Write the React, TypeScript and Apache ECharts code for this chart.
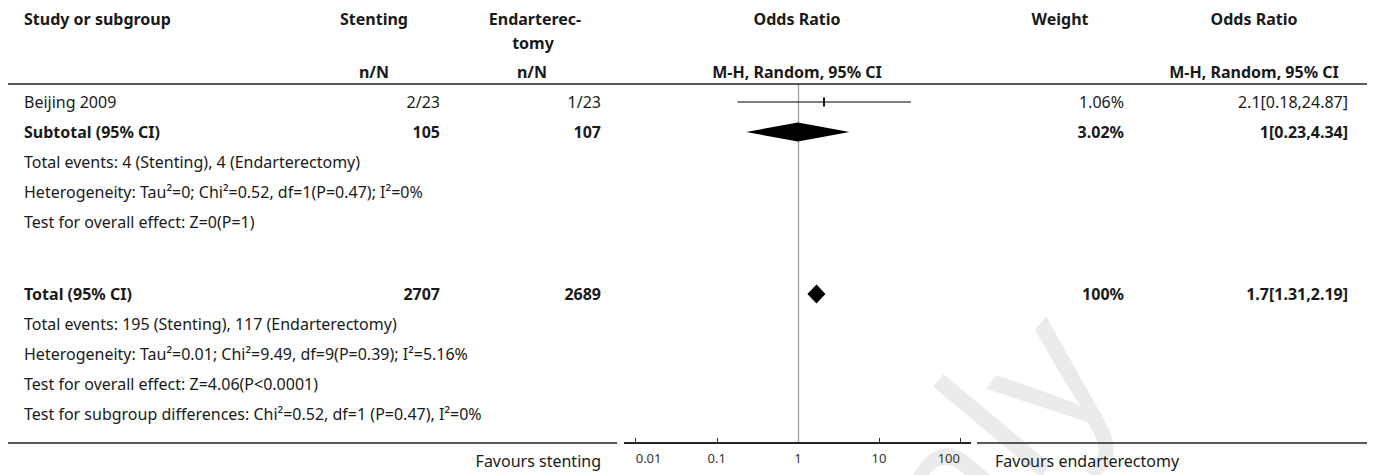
import React, { useEffect, useRef } from 'react';
import * as echarts from 'echarts';

// ---- study-level data ----
const studyNames = ['Beijing 2009'];
const stentEvents = [2];
const stentTotals = [23];
const endEvents = [1];
const endTotals = [23];
const studyWeights = [1.06];
const studyOR = [2.1];
const studyLow = [0.18];
const studyHigh = [24.87];

// ---- pooled estimates (subgroup, overall) ----
const pooledNames = ['Subtotal (95% CI)', 'Total (95% CI)'];
const pooledStentN = [105, 2707];
const pooledEndN = [107, 2689];
const pooledWeights = [3.02, 100];
const pooledOR = [1, 1.7];
const pooledLow = [0.23, 1.31];
const pooledHigh = [4.34, 2.19];

const subgroupNotes = [
  'Total events: 4 (Stenting), 4 (Endarterectomy)',
  'Heterogeneity: Tau\u00B2=0; Chi\u00B2=0.52, df=1(P=0.47); I\u00B2=0%',
  'Test for overall effect: Z=0(P=1)',
];
const overallNotes = [
  'Total events: 195 (Stenting), 117 (Endarterectomy)',
  'Heterogeneity: Tau\u00B2=0.01; Chi\u00B2=9.49, df=9(P=0.39); I\u00B2=5.16%',
  'Test for overall effect: Z=4.06(P<0.0001)',
  'Test for subgroup differences: Chi\u00B2=0.52, df=1 (P=0.47), I\u00B2=0%',
];

const axisMin = 0.01;
const axisMax = 100;
const favoursLeft = 'Favours stenting';
const favoursRight = 'Favours endarterectomy';

// ---- layout ----
const FONT = "'Noto Sans', sans-serif";
const FS = 16;
const TEXT_X = 24;
const FIRST_ROW_Y = 102;
const ROW_H = 30;
const GROUP_GAP = 2.4; // rows between the subgroup notes and the overall total
const TABLE_TOP = 84;
const TABLE_BOTTOM = 443;
const LINE_LEFT = 8;
const LINE_RIGHT = 1367;
const PLOT_LEFT = 635.7;
const PLOT_RIGHT = 960;
const AXIS_LINE_LEFT = 624;
const AXIS_LINE_RIGHT = 971;

const COL_STENT = 440;
const COL_END = 601;
const COL_WEIGHT = 1124;
const COL_OR = 1348;

// row positions, in row units on the plot's vertical scale
const studyRows = studyNames.map((_, i) => i);
const subtotalRow = studyNames.length;
const totalRow = subtotalRow + subgroupNotes.length + GROUP_GAP;

const rowY = (r: number) => FIRST_ROW_Y + r * ROW_H;

function txt(
  text: string,
  x: number,
  y: number,
  align: 'left' | 'center' | 'right',
  bold = false,
  extra: Record<string, unknown> = {}
) {
  return {
    type: 'text',
    x,
    y,
    z: 10,
    style: {
      text,
      fontFamily: FONT,
      fontSize: FS,
      fontWeight: bold ? 'bold' : 'normal',
      fill: '#1a1a1a',
      align,
      verticalAlign: 'middle',
      ...extra,
    },
  };
}

function hline(x1: number, x2: number, y: number, w = 1.5) {
  return {
    type: 'line',
    z: 10,
    shape: { x1, y1: y, x2, y2: y },
    style: { stroke: '#222', lineWidth: w },
  };
}

const fmtCI = (or: number, lo: number, hi: number) => `${or}[${lo},${hi}]`;

export default function App() {
  const ref = useRef<HTMLDivElement>(null);

  useEffect(() => {
    if (!ref.current) return;
    const chart = echarts.init(ref.current, null, { renderer: 'svg' });

    // marks: [low, high, estimate, row]
    const markData: { value: number[]; kind: string }[] = [];
    studyNames.forEach((_, i) => {
      markData.push({ value: [studyLow[i], studyHigh[i], studyOR[i], studyRows[i]], kind: 'study' });
    });
    markData.push({ value: [pooledLow[0], pooledHigh[0], pooledOR[0], subtotalRow], kind: 'pooled' });
    markData.push({ value: [pooledLow[1], pooledHigh[1], pooledOR[1], totalRow], kind: 'pooled' });

    const texts: any[] = [];
    // header
    const H1 = 19;
    const H2 = 43;
    const H3 = 72;
    texts.push(txt('Study or subgroup', TEXT_X, H1, 'left', true));
    texts.push(txt('Stenting', 374, H1, 'center', true));
    texts.push(txt('n/N', 374, H3, 'center', true));
    texts.push(txt('Endarterec-', 535, H1, 'center', true));
    texts.push(txt('tomy', 533, H2, 'center', true));
    texts.push(txt('n/N', 532, H3, 'center', true));
    texts.push(txt('Odds Ratio', 797, H1, 'center', true));
    texts.push(txt('M-H, Random, 95% CI', 797, H3, 'center', true));
    texts.push(txt('Weight', 1060, H1, 'center', true));
    texts.push(txt('Odds Ratio', 1254, H1, 'center', true));
    texts.push(txt('M-H, Random, 95% CI', 1254, H3, 'center', true));

    // study rows
    studyNames.forEach((name, i) => {
      const y = rowY(studyRows[i]);
      texts.push(txt(name, TEXT_X, y, 'left'));
      texts.push(txt(`${stentEvents[i]}/${stentTotals[i]}`, COL_STENT, y, 'right'));
      texts.push(txt(`${endEvents[i]}/${endTotals[i]}`, COL_END, y, 'right'));
      texts.push(txt(`${studyWeights[i]}%`, COL_WEIGHT, y, 'right'));
      texts.push(txt(fmtCI(studyOR[i], studyLow[i], studyHigh[i]), COL_OR, y, 'right'));
    });

    // pooled rows
    [subtotalRow, totalRow].forEach((r, k) => {
      const y = rowY(r);
      texts.push(txt(pooledNames[k], TEXT_X, y, 'left', true));
      texts.push(txt(String(pooledStentN[k]), COL_STENT, y, 'right', true));
      texts.push(txt(String(pooledEndN[k]), COL_END, y, 'right', true));
      texts.push(txt(`${pooledWeights[k]}%`, COL_WEIGHT, y, 'right', true));
      texts.push(txt(fmtCI(pooledOR[k], pooledLow[k], pooledHigh[k]), COL_OR, y, 'right', true));
    });

    subgroupNotes.forEach((t, i) => texts.push(txt(t, TEXT_X, rowY(subtotalRow + 1 + i), 'left')));
    overallNotes.forEach((t, i) => texts.push(txt(t, TEXT_X, rowY(totalRow + 1 + i), 'left')));

    // footer
    texts.push(txt(favoursLeft, 601, 461, 'right'));
    texts.push(txt(favoursRight, 995, 461, 'left'));

    const lines = [
      hline(LINE_LEFT, LINE_RIGHT, TABLE_TOP),
      hline(LINE_LEFT, 617, TABLE_BOTTOM),
      hline(AXIS_LINE_LEFT, AXIS_LINE_RIGHT, TABLE_BOTTOM, 2),
      hline(977, LINE_RIGHT, TABLE_BOTTOM),
    ];

    const watermark = {
      type: 'text',
      x: 1067,
      y: 334,
      z: 0,
      rotation: (50 * Math.PI) / 180,
      style: {
        text: 'Preview only',
        fontFamily: FONT,
        fontSize: 185,
        fill: '#ebebeb',
        align: 'right',
        verticalAlign: 'middle',
      },
    };

    const yMin = (TABLE_TOP - FIRST_ROW_Y) / ROW_H;
    const yMax = (TABLE_BOTTOM - FIRST_ROW_Y) / ROW_H;

    chart.setOption({
      animation: false,
      backgroundColor: '#fff',
      grid: {
        left: PLOT_LEFT,
        right: 1375 - PLOT_RIGHT,
        top: TABLE_TOP,
        bottom: 475 - TABLE_BOTTOM,
        containLabel: false,
      },
      xAxis: {
        type: 'log',
        logBase: 10,
        min: axisMin,
        max: axisMax,
        position: 'bottom',
        axisLine: { show: false, onZero: false },
        axisTick: { show: true, inside: true, length: 5, lineStyle: { color: '#333', width: 1 } },
        axisLabel: {
          show: true,
          margin: 8,
          color: '#333',
          fontFamily: FONT,
          fontSize: 13,
          alignMinLabel: 'left',
          alignMaxLabel: 'right',
          formatter: (v: number) => String(Number(v.toPrecision(2))),
        },
        splitLine: { show: false },
      },
      yAxis: {
        type: 'value',
        inverse: true,
        min: yMin,
        max: yMax,
        show: false,
        splitLine: { show: false },
      },
      graphic: { elements: [watermark, ...lines, ...texts] },
      series: [
        {
          type: 'custom',
          z: 5,
          data: markData,
          encode: { x: [0, 1, 2], y: 3 },
          renderItem: (params: any, api: any) => {
            const row = api.value(3);
            const lo = api.coord([api.value(0), row]);
            const hi = api.coord([api.value(1), row]);
            const est = api.coord([api.value(2), row]);
            const kind = markData[params.dataIndex].kind;
            if (kind === 'study') {
              return {
                type: 'group',
                children: [
                  {
                    type: 'line',
                    shape: { x1: lo[0], y1: lo[1], x2: hi[0], y2: hi[1] },
                    style: { stroke: '#000', lineWidth: 1 },
                  },
                  {
                    type: 'rect',
                    shape: { x: est[0] - 1, y: est[1] - 4.5, width: 2, height: 9 },
                    style: { fill: '#111' },
                  },
                ],
              };
            }
            const hh = 9.5;
            return {
              type: 'polygon',
              shape: {
                points: [
                  [lo[0], lo[1]],
                  [est[0], est[1] - hh],
                  [hi[0], hi[1]],
                  [est[0], est[1] + hh],
                ],
              },
              style: { fill: '#000' },
            };
          },
          markLine: {
            silent: true,
            symbol: 'none',
            label: { show: false },
            lineStyle: { color: '#a0a0a0', width: 1.3, type: 'solid' },
            data: [{ xAxis: 1 }],
          },
        },
      ],
    });

    return () => chart.dispose();
  }, []);

  return (
    <div
      ref={ref}
      style={{ position: 'fixed', left: 0, top: 0, width: 1375, height: 475, background: '#fff' }}
    />
  );
}
